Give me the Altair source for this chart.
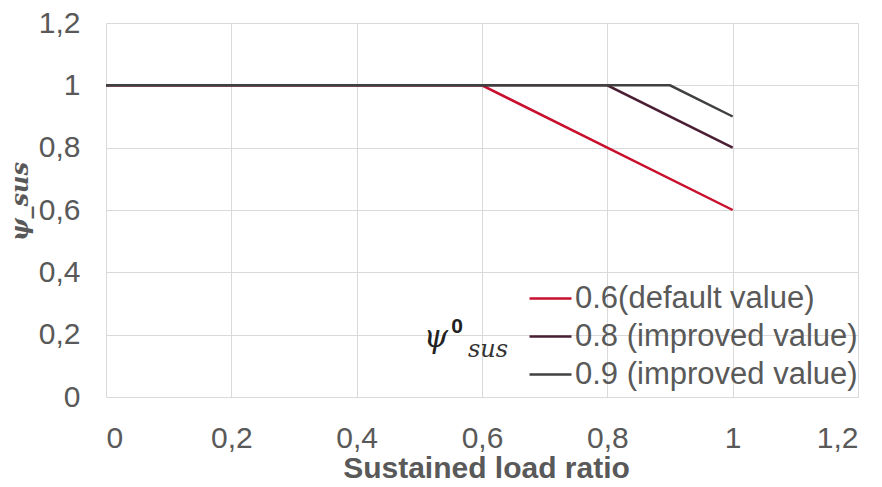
import altair as alt
import pandas as pd

series = ["0.6(default value)", "0.8 (improved value)", "0.9 (improved value)"]
x_vals = [[0.0, 0.6, 1.0], [0.0, 0.8, 1.0], [0.0, 0.9, 1.0]]
y_vals = [[1.0, 1.0, 0.6], [1.0, 1.0, 0.8], [1.0, 1.0, 0.9]]
colors = ["#C8102E", "#4A1F33", "#404040"]
ticks = [0, 0.2, 0.4, 0.6, 0.8, 1.0, 1.2]
annot = ["ψ", "0", "sus"]

rows = []
for s, xs, ys in zip(series, x_vals, y_vals):
    for i, (xv, yv) in enumerate(zip(xs, ys)):
        rows.append({"series": s, "x": xv, "y": yv, "order": i})
df = pd.DataFrame(rows)

label_expr = "replace(format(datum.value, '~g'), '.', ',')"
LBL = "#595959"
FONT = "Liberation Sans"

lines = alt.Chart(df).mark_line(strokeWidth=2.5).encode(
    x=alt.X("x:Q", scale=alt.Scale(domain=[0, 1.2], nice=False),
            axis=alt.Axis(values=ticks, labelExpr=label_expr, title="Sustained load ratio",
                          grid=True, ticks=False, tickSize=0, domain=False,
                          labelFontSize=30, labelColor=LBL, labelFont=FONT, labelPadding=26,
                          titleFont=FONT, titleFontSize=30,
                          titleFontWeight="bold", titleColor=LBL,
                          titleX=380, titleY=71, titleBaseline="middle", titleAlign="center")),
    y=alt.Y("y:Q", scale=alt.Scale(domain=[0, 1.2], nice=False),
            axis=alt.Axis(values=ticks, labelExpr=label_expr, title="ψ_sus",
                          grid=True, ticks=False, tickSize=0, domain=False,
                          labelFontSize=30, labelColor=LBL, labelFont=FONT, labelPadding=26,
                          titleFont="DejaVu Serif", titleFontSize=24, titleFontStyle="italic",
                          titleFontWeight="bold", titleColor=LBL, titleAngle=270,
                          titleX=-86, titleY=178, titleBaseline="middle", titleAlign="center")),
    color=alt.Color("series:N", sort=series,
                    scale=alt.Scale(domain=series, range=colors),
                    legend=alt.Legend(title=None, orient="none", legendX=422, legendY=253,
                                      symbolType="stroke", symbolSize=1764, symbolStrokeWidth=2.5,
                                      labelFontSize=31, labelColor=LBL, labelFont=FONT,
                                      labelOffset=2, rowPadding=-2, padding=0, labelLimit=400)),
    order="order:Q",
)

one = pd.DataFrame({"a": [0]})
psi = alt.Chart(one).mark_text(text=annot[0], font="DejaVu Serif", fontStyle="italic",
                               fontSize=31, color="#222222", baseline="middle", align="center"
                               ).encode(x=alt.value(330), y=alt.value(315))
sup = alt.Chart(one).mark_text(text=annot[1], font=FONT, fontWeight="bold",
                               fontSize=21, color="#222222", baseline="middle", align="center"
                               ).encode(x=alt.value(351), y=alt.value(304))
sub = alt.Chart(one).mark_text(text=annot[2], font="DejaVu Serif", fontStyle="italic",
                               fontSize=24, color="#333333", baseline="middle", align="center"
                               ).encode(x=alt.value(382), y=alt.value(327))

chart = alt.layer(lines, psi, sup, sub).properties(
    width=752, height=374,
    padding={"left": 98, "top": 15, "right": 16, "bottom": 82},
    autosize=alt.AutoSizeParams(type="none"),
).configure_view(stroke=None).configure_axis(gridColor="#D9D9D9", gridWidth=1)

chart.save("out.html", embed_options={"renderer": "svg", "actions": False})
